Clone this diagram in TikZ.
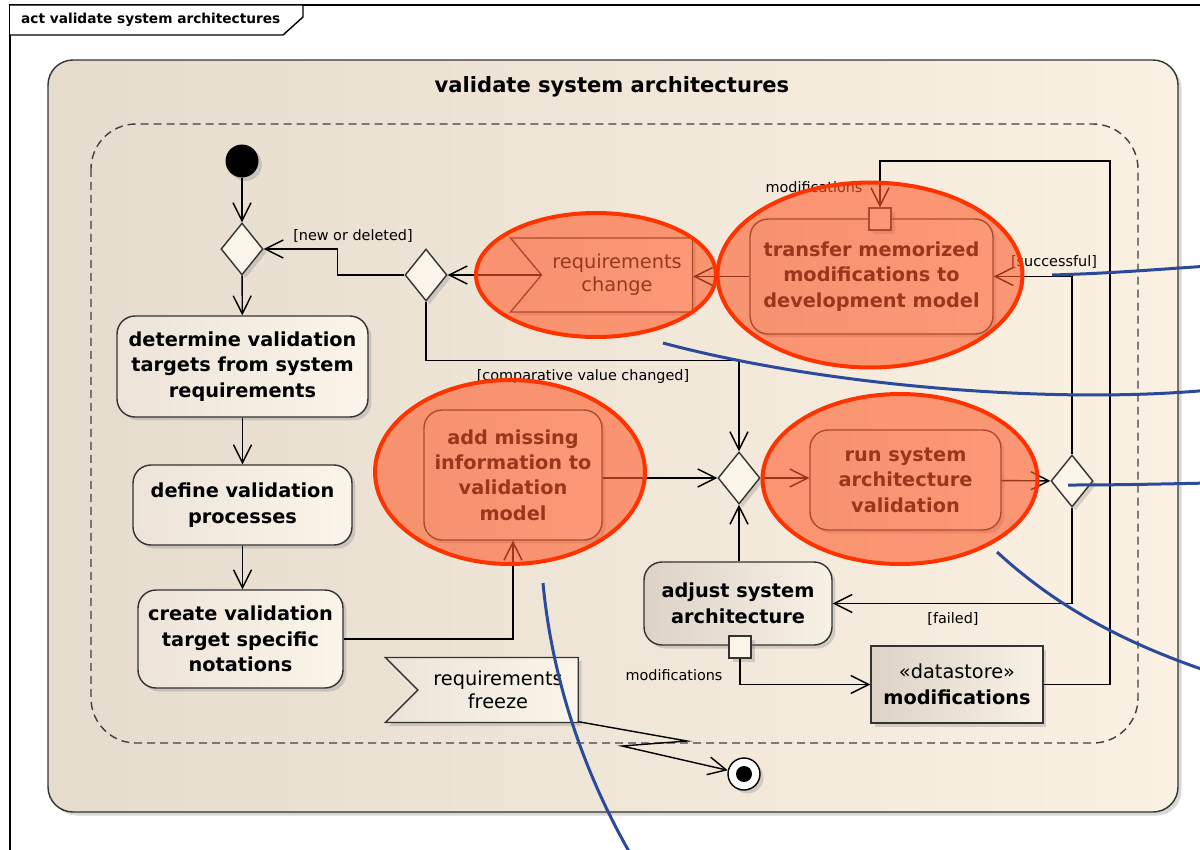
\documentclass[tikz,border=0pt]{standalone}
\usepackage{fontspec}
\setmainfont{DejaVu Sans}
\usetikzlibrary{arrows.meta,shapes.geometric,shapes.symbols,shadows}
\definecolor{bgleft}{RGB}{230,220,206}
\definecolor{bgright}{RGB}{250,241,227}
\definecolor{actleft}{RGB}{236,228,216}
\definecolor{actright}{RGB}{251,244,232}
\definecolor{adjleft}{RGB}{220,211,198}
\definecolor{adjright}{RGB}{248,241,229}
\definecolor{hlfill}{RGB}{255,92,44}
\definecolor{hlline}{RGB}{255,51,0}
\definecolor{annotblue}{RGB}{44,74,154}
\newcommand{\actfont}{\fontsize{11}{14.5}\selectfont\bfseries}
\newcommand{\evtfont}{\fontsize{11}{13}\selectfont}
\newcommand{\guardfont}{\fontsize{8.2}{10}\selectfont}
\newcommand{\titlefont}{\fontsize{12}{14}\selectfont\bfseries}
\newcommand{\framefont}{\fontsize{7.8}{9}\selectfont\bfseries}

\begin{document}
\begin{tikzpicture}[x=0.02cm,y=-0.02cm,
                    wire/.style={draw=black,line width=0.8pt},
                    flow/.style={draw=black,line width=0.8pt,-{Straight Barb[length=0.36cm,width=0.36cm]}},
                    shade/.style={drop shadow={shadow xshift=0.07cm,shadow yshift=-0.07cm,opacity=0.3}},
                    activity/.style={draw=black!80,line width=0.8pt,rounded corners=0.5cm,left color=bgleft,right color=bgright,shade},
                    region/.style={draw=black!75,line width=0.8pt,rounded corners=0.9cm,dash pattern=on 0.16cm off 0.1cm},
                    action/.style={draw=black!80,line width=0.8pt,rounded corners=0.36cm,left color=actleft,right color=actright,align=center,font=\actfont,shade},
                    decision/.style={diamond,draw=black!80,line width=0.8pt,fill=actright,minimum width=0.84cm,minimum height=1.04cm,inner sep=0pt,shade},
                    event/.style={signal,signal from=west,signal to=nowhere,signal pointer angle=100,draw=black!80,line width=0.8pt,left color=actleft,right color=actright,align=center,font=\evtfont,shade},
                    store/.style={rectangle,draw=black!80,line width=0.8pt,left color=adjleft,right color=adjright,align=center,font=\actfont,shade},
                    pinbox/.style={rectangle,draw=black!80,line width=0.8pt,fill=actright,minimum size=0.44cm,inner sep=0pt,shade},
                    startdot/.style={circle,fill=black,minimum size=0.66cm,inner sep=0pt,shade},
                    enddot/.style={circle,draw=black,line width=0.8pt,fill=white,minimum size=0.64cm,inner sep=0pt,shade,
                        path picture={\fill[black] (path picture bounding box.center) circle (0.16cm);}},
                    guard/.style={font=\guardfont,inner sep=1pt},
                    hilite/.style={ellipse,fill=hlfill,fill opacity=0.6,draw=hlline,line width=0.08cm},
                    annot/.style={draw=annotblue,line width=0.06cm}]
                    \useasboundingbox (0,0) rectangle (1200,849);
                    \clip (0,0) rectangle (1200,849);
                    \fill[white] (0,0) rectangle (1200,849);
                    \draw[wire] (10,900) -- (10,5) -- (1250,5);
                    \draw[wire,fill=white] (10,5) -- (303,5) -- (303,17) -- (283,35) -- (10,35);
                    \node[anchor=west,font=\framefont] (framename) at (15,20) {act validate system architectures};
                    \draw[activity] (48,60) rectangle (1178,812);
                    \node[font=\titlefont] (title) at (612,87) {validate system architectures};
                    \draw[region] (91,124) rectangle (1138,743);

                    \node[startdot] (start) at (242,161) {};
                    \node[decision] (d1) at (242,249) {};
                    \node[action,minimum width=5.02cm,minimum height=2.02cm] (determine) at (242.5,366.5) {determine validation\\targets from system\\requirements};
                    \node[action,minimum width=4.38cm,minimum height=1.6cm] (define) at (242.5,505) {define validation\\processes};
                    \node[action,minimum width=4.1cm,minimum height=1.96cm] (create) at (240.5,639) {create validation\\target specific\\notations};
                    \node[decision] (d2) at (426,275) {};
                    \node[event,minimum width=3.64cm,minimum height=1.48cm] (reqchange) at (617,275) {requirements\\change};
                    \node[action,minimum width=4.86cm,minimum height=2.3cm] (transfer) at (871.5,276.5) {transfer memorized\\modifications to\\development model};
                    \node[pinbox] (pintr) at (880,219) {};
                    \node[action,minimum width=3.56cm,minimum height=2.6cm] (add) at (513,475) {add missing\\information to\\validation\\model};
                    \node[decision] (d3) at (739,478) {};
                    \node[action,minimum width=3.82cm,minimum height=2cm] (run) at (905.5,480) {run system\\architecture\\validation};
                    \node[decision] (d4) at (1072,481) {};
                    \node[action,left color=adjleft,right color=adjright,minimum width=3.76cm,minimum height=1.66cm] (adjust) at (738,603.5) {adjust system\\architecture};
                    \node[pinbox] (pinadj) at (740,647) {};
                    \node[store,minimum width=3.44cm,minimum height=1.54cm] (store) at (957,684.5) {{\evtfont\mdseries «datastore»}\\modifications};
                    \node[event,minimum width=3.86cm,minimum height=1.3cm,signal pointer angle=90] (freeze) at (498,690) {requirements\\freeze};
                    \node[enddot] (final) at (744,774) {};

                    \coordinate (loop) at (1110,161);
                    \coordinate (zag1) at (687,741);
                    \coordinate (zag2) at (622,746);
                    \draw[flow] (start) -- (d1);
                    \draw[flow] (d1) -- (determine);
                    \draw[flow] (determine) -- (define);
                    \draw[flow] (define.south) -- (define.south |- create.north);
                    \draw[flow] (create.east) -| (add.south);
                    \draw[flow] (reqchange.west) -- (d2.east);
                    \draw[flow] (transfer.west) -- (transfer.west -| reqchange.east);
                    \draw[flow] (d2.west) -- ++(-67,0) |- (d1.east);
                    \draw[flow] (d2.south) -- ++(0,59) -| (d3.north);
                    \draw[flow] (add.east |- d3.west) -- (d3.west);
                    \draw[flow] (d3.south |- adjust.north) -- (d3.south);
                    \draw[flow] (d3.east) -- (d3.east -| run.west);
                    \draw[flow] (run) -- (d4);
                    \draw[flow] (d4.north) |- (transfer.east);
                    \draw[flow] (d4.south) |- (adjust.east);
                    \draw[flow] (pinadj.south) |- (store.west);
                    \draw[flow] (store.east) -| (loop) -| (pintr.north);
                    \draw[flow] (freeze.south east) -- (zag1) -- (zag2) -- (final);

                    \node[guard] (lnew) at (353,236) {[new or deleted]};
                    \node[guard] (lcomp) at (583,377) {[comparative value changed]};
                    \node[guard] (lsucc) at (1054,262) {[successful]};
                    \node[guard] (lfail) at (953,619) {[failed]};
                    \node[guard] (lmodtr) at (814,187) {modifications};
                    \node[guard] (lmodadj) at (674,675) {modifications};

                    \node[hilite,minimum width=4.8cm,minimum height=2.48cm] (hlchange) at (596,275) {};
                    \node[hilite,minimum width=6.1cm,minimum height=3.7cm] (hltransfer) at (870,275) {};
                    \node[hilite,minimum width=5.4cm,minimum height=3.68cm] (hladd) at (510,472) {};
                    \node[hilite,minimum width=5.5cm,minimum height=3.4cm] (hlrun) at (900,479) {};

                    \draw[annot] (1052,275) .. controls (1120,273) and (1160,269) .. (1210,266);
                    \draw[annot] (663,343) .. controls (820,385) and (1050,405) .. (1210,390);
                    \draw[annot] (1068,485) .. controls (1120,485) and (1160,484) .. (1210,483);
                    \draw[annot] (997,552) .. controls (1060,610) and (1130,645) .. (1210,672);
                    \draw[annot] (543,583) .. controls (552,680) and (585,780) .. (640,870);
                \end{tikzpicture}
\end{document}
